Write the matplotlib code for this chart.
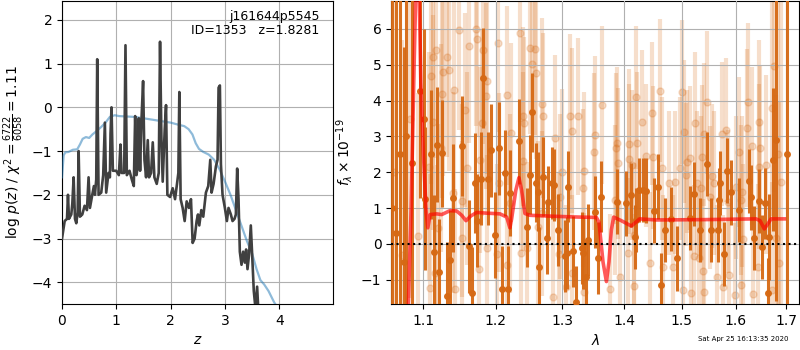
import numpy as np
import matplotlib
matplotlib.use('Agg')
import matplotlib.pyplot as plt
from matplotlib.ticker import NullLocator, NullFormatter

# ---- p(z) panel data ----
z_grid = [0.000, 0.049, 0.092, 0.110, 0.128, 0.171, 0.190, 0.214, 0.239, 0.263,
          0.288, 0.306, 0.330, 0.373, 0.416, 0.459, 0.489, 0.514, 0.557, 0.587,
          0.606, 0.630, 0.648, 0.673, 0.722, 0.758, 0.789, 0.813, 0.856, 0.881,
          0.893, 0.911, 0.936, 0.997, 1.046, 1.076, 1.095, 1.144, 1.168, 1.193,
          1.242, 1.284, 1.321, 1.346, 1.370, 1.394, 1.413, 1.437, 1.462, 1.492,
          1.517, 1.547, 1.578, 1.602, 1.639, 1.670, 1.700, 1.743, 1.780, 1.804,
          1.829, 1.853, 1.890, 1.914, 1.939, 1.988, 2.037, 2.080, 2.116, 2.141,
          2.159, 2.183, 2.220, 2.257, 2.294, 2.336, 2.373, 2.404, 2.440, 2.477,
          2.502, 2.526, 2.563, 2.599, 2.648, 2.691, 2.728, 2.752, 2.789, 2.832,
          2.862, 2.881, 2.905, 2.924, 2.954, 2.997, 3.034, 3.064, 3.107, 3.138,
          3.174, 3.199, 3.223, 3.248, 3.272, 3.303, 3.333, 3.364, 3.388, 3.413,
          3.443, 3.474, 3.498, 3.529, 3.560, 3.590, 3.615]
log_pz = [-3.00, -2.60, -2.55, -2.00, -2.55, -2.45, -2.20, -1.60, -2.55, -2.65,
          -2.40, -1.00, -2.50, -2.45, -2.25, -2.35, -1.60, -2.30, -2.00, -1.80,
          -2.00, -1.65, 1.10, -2.00, -1.95, -1.55, -0.35, -1.95, -1.50, -1.60,
          -0.60, 0.00, -1.45, -1.45, -1.55, -0.85, -1.50, -1.50, 1.42, -1.55,
          -1.45, -1.65, -1.80, -0.20, -1.55, -1.35, -0.25, -1.45, -0.30, 0.60,
          -1.20, -1.60, -0.75, -1.60, -1.50, -0.80, -1.60, -1.75, -1.50, 1.50,
          -0.70, -1.70, -0.50, 0.05, -2.00, -2.05, -1.85, -2.10, -1.75, -1.50,
          0.35, -2.10, -2.30, -2.60, -2.15, -2.30, -2.10, -3.10, -3.00, -2.60,
          -2.45, -2.70, -2.35, -2.50, -1.95, -1.80, -1.20, -1.95, -1.75, -1.35,
          -1.20, 0.45, 0.50, -1.30, -2.00, -2.30, -2.60, -2.30, -2.45, -2.60,
          -2.55, -2.45, -1.40, -2.10, -3.30, -3.60, -3.30, -3.55, -3.25, -3.70,
          -3.35, -2.70, -3.35, -4.20, -4.60, -4.10, -4.70]

z_chi2 = [0.00, 0.03, 0.06, 0.12, 0.20, 0.28, 0.33, 0.38, 0.44, 0.50,
          0.56, 0.63, 0.72, 0.80, 0.88, 0.97, 1.05, 1.20, 1.35, 1.50,
          1.70, 1.85, 2.00, 2.15, 2.25, 2.33, 2.40, 2.46, 2.52, 2.60,
          2.70, 2.80, 2.90, 3.00, 3.10, 3.20, 3.30, 3.40, 3.50, 3.58,
          3.65, 3.72, 3.80, 3.90, 3.95]
chi2_curve = [-1.60, -1.10, -1.03, -1.02, -0.97, -0.96, -0.85, -0.72, -0.68, -0.70,
              -0.62, -0.55, -0.45, -0.35, -0.22, -0.18, -0.20, -0.21, -0.22, -0.25,
              -0.29, -0.32, -0.35, -0.40, -0.43, -0.50, -0.62, -0.82, -0.95, -1.02,
              -1.08, -1.20, -1.42, -1.70, -2.00, -2.35, -2.70, -3.05, -3.35, -3.70,
              -3.95, -4.05, -4.20, -4.45, -4.55]

# ---- spectrum panel data (flux x 1e-19) ----
wave_a = [1.0597, 1.0650, 1.0703, 1.0746, 1.0777, 1.0860, 1.0961, 1.1009, 1.1026, 1.1109,
          1.1149, 1.1181, 1.1216, 1.1256, 1.1324, 1.1365, 1.1406, 1.1521, 1.1627, 1.1660,
          1.1710, 1.1738, 1.1786, 1.1822, 1.1885, 1.1932, 1.1990, 1.2052, 1.2095, 1.2134,
          1.2182, 1.2206, 1.2339, 1.2462, 1.2507, 1.2537, 1.2588, 1.2627, 1.2640, 1.2703,
          1.2754, 1.2779, 1.2836, 1.2871, 1.2932, 1.3036, 1.3063, 1.3087, 1.3166, 1.3209,
          1.3309, 1.3325, 1.3379, 1.3405, 1.3512, 1.3566, 1.3621, 1.3878, 1.4035, 1.4119,
          1.4175, 1.4204, 1.4248, 1.4316, 1.4375, 1.4500, 1.4575, 1.4635, 1.4693, 1.4811,
          1.4911, 1.5139, 1.5217, 1.5321, 1.5455, 1.5537, 1.5660, 1.5692, 1.5705, 1.5773,
          1.5830, 1.5913, 1.6072, 1.6252, 1.6298, 1.6363, 1.6447, 1.6514, 1.6573, 1.6625,
          1.6659, 1.6725, 1.6793, 1.7007]
flux_a = [1.00, 0.30, 2.50, -0.50, 3.00, 2.25, 4.28, 3.49, 1.26, 2.50,
          -0.23, 2.77, -0.79, 2.53, -1.44, -0.45, 1.28, 2.74, -0.07, -1.38,
          1.71, 0.65, 1.82, 4.63, 1.82, 2.61, 0.25, 2.67, -1.26, 1.97,
          -1.26, 1.42, 2.86, 0.46, 1.93, 3.68, 1.71, 1.46, -0.63, 1.88,
          0.16, 1.18, 1.71, 1.65, 0.39, -0.33, -0.26, 1.60, -0.21, -1.61,
          -0.12, -0.26, -0.91, 0.11, 0.90, -0.40, 1.32, 1.18, 1.13, 1.37,
          0.20, 0.67, 1.51, 1.51, 1.49, 0.93, 1.60, -1.15, 0.39, 0.69,
          -0.40, 0.72, 1.40, 0.39, 2.23, 0.39, 0.39, 1.23, 1.70, -0.28,
          2.05, 1.44, 0.95, 1.76, 1.30, 0.16, 1.20, -0.09, 1.13, -1.38,
          0.20, 2.35, 2.90, 2.51]
err_a = [8.0, 7.0, 5.0, 6.0, 5.0, 5.0, 3.0, 2.5, 2.0, 1.8,
         1.6, 1.6, 1.5, 1.5, 1.5, 1.4, 1.5, 1.4, 1.3, 1.3,
         1.4, 1.3, 1.3, 1.4, 1.3, 1.3, 1.2, 1.3, 1.2, 1.2,
         1.2, 1.2, 1.2, 1.1, 1.1, 1.1, 1.1, 1.1, 1.1, 1.1,
         1.0, 1.0, 1.0, 1.0, 1.0, 1.0, 1.0, 1.0, 1.0, 1.0,
         1.0, 1.0, 1.0, 1.0, 1.0, 1.0, 1.0, 0.9, 0.9, 0.9,
         0.9, 0.9, 0.9, 0.9, 0.9, 0.9, 0.9, 0.9, 0.9, 0.9,
         0.9, 0.9, 0.9, 0.9, 0.9, 0.9, 0.9, 0.9, 0.9, 0.9,
         0.9, 0.9, 0.9, 0.9, 0.9, 0.9, 0.9, 0.9, 1.0, 1.0,
         1.2, 2.0, 4.5, 6.0]

wave_b = [1.0620, 1.0720, 1.0830, 1.0938, 1.1083, 1.1090, 1.1109, 1.1128, 1.1132, 1.1159,
          1.1168, 1.1203, 1.1234, 1.1250, 1.1262, 1.1316, 1.1351, 1.1398, 1.1420, 1.1429,
          1.1488, 1.1521, 1.1530, 1.1562, 1.1600, 1.1619, 1.1720, 1.1730, 1.1766, 1.1776,
          1.1800, 1.1822, 1.1856, 1.1870, 1.1875, 1.2013, 1.2038, 1.2045, 1.2159, 1.2165,
          1.2206, 1.2221, 1.2354, 1.2364, 1.2394, 1.2402, 1.2417, 1.2453, 1.2498, 1.2537,
          1.2582, 1.2590, 1.2627, 1.2679, 1.2685, 1.2703, 1.2855, 1.2882, 1.2942, 1.2958,
          1.2985, 1.3052, 1.3125, 1.3150, 1.3155, 1.3245, 1.3325, 1.3341, 1.3347, 1.3496,
          1.3512, 1.3632, 1.3757, 1.3840, 1.3868, 1.3878, 1.3894, 1.3922, 1.4063, 1.4079,
          1.4085, 1.4127, 1.4163, 1.4170, 1.4204, 1.4210, 1.4299, 1.4362, 1.4431, 1.4478,
          1.4488, 1.4605, 1.4653, 1.4664, 1.4769, 1.4839, 1.4881, 1.4959, 1.5007, 1.5017,
          1.5035, 1.5066, 1.5095, 1.5139, 1.5157, 1.5217, 1.5235, 1.5274, 1.5308, 1.5352,
          1.5370, 1.5394, 1.5400, 1.5413, 1.5455, 1.5524, 1.5555, 1.5598, 1.5642, 1.5734,
          1.5753, 1.5818, 1.5848, 1.5880, 1.5994, 1.6008, 1.6072, 1.6104, 1.6110, 1.6123,
          1.6135, 1.6214, 1.6233, 1.6318, 1.6344, 1.6427, 1.6447, 1.6460, 1.6480, 1.6593,
          1.6713, 1.6720, 1.6759, 1.6793, 1.6830, 1.6859, 1.6894]
flux_b = [2.00, -0.30, 3.50, 0.22, 2.16, -1.24, 4.68, 3.40, 5.21, -0.80,
          5.40, 0.44, 2.67, 4.18, 4.80, 5.23, 4.85, 1.43, 4.30, -1.27,
          5.98, 0.16, 1.21, 3.74, 2.11, 5.53, 6.00, 5.72, -0.71, 2.35,
          3.37, 5.40, 4.13, 4.55, -0.12, -0.28, 5.62, 1.71, 4.15, -0.59,
          1.14, 3.11, 5.90, -0.26, 3.56, 2.31, 3.37, -0.12, 5.46, 5.02,
          5.44, 4.77, 0.48, 3.90, 0.86, 3.58, -1.49, 2.97, -0.28, 1.32,
          2.02, -1.21, 3.56, 3.16, -0.82, 3.56, 1.56, 2.04, -1.33, 2.58,
          3.04, 3.87, -1.27, 1.23, 2.67, 2.83, 2.25, -0.91, -0.26, 2.78,
          2.37, 2.21, 0.25, -1.17, 4.09, 2.81, 3.40, 2.46, -0.54, 3.65,
          2.42, 4.28, 2.11, -0.63, 1.70, -0.63, 1.72, 2.11, 4.24, -1.28,
          3.13, 1.93, 2.30, 2.40, -1.38, -0.35, 3.37, 1.70, -0.40, 1.56,
          2.44, -0.75, 3.06, -1.34, 3.95, 1.30, 1.90, 1.70, -0.91, 3.07,
          -1.19, 3.18, 1.18, -0.87, -1.42, 1.58, 2.57, 1.23, -1.15, 1.46,
          0.13, 3.23, 3.96, 2.74, -1.40, -0.63, 3.40, 2.16, 2.67, 2.21,
          3.79, -1.28, 4.96, 0.16, 2.50, -0.52, 1.74]
err_b = [7.0, 6.0, 5.0, 4.0, 3.2, 3.2, 3.0, 3.0, 3.0, 3.0,
         3.0, 2.9, 2.9, 2.9, 2.9, 2.8, 2.8, 2.8, 2.8, 2.8,
         2.8, 2.7, 2.7, 2.7, 2.7, 2.7, 2.7, 2.7, 2.6, 2.6,
         2.6, 2.6, 2.6, 2.6, 2.6, 2.5, 2.5, 2.5, 2.5, 2.5,
         2.5, 2.5, 2.5, 2.5, 2.5, 2.5, 2.4, 2.4, 2.4, 2.4,
         2.4, 2.4, 2.4, 2.4, 2.3, 2.3, 2.3, 2.3, 2.3, 2.3,
         2.3, 2.3, 2.3, 2.3, 2.2, 2.2, 2.2, 2.2, 2.2, 2.2,
         2.2, 2.2, 2.1, 2.1, 2.1, 2.1, 2.1, 2.1, 2.1, 2.1,
         2.1, 2.1, 2.0, 2.0, 2.0, 2.0, 2.0, 2.0, 2.0, 2.0,
         2.0, 2.0, 2.0, 2.0, 2.0, 2.0, 2.0, 2.0, 2.0, 2.0,
         2.0, 2.0, 2.0, 2.0, 2.0, 2.0, 2.0, 2.0, 2.0, 2.0,
         2.0, 2.0, 2.0, 2.0, 2.0, 2.0, 2.0, 2.0, 2.0, 2.0,
         2.0, 2.0, 2.0, 2.0, 2.0, 2.0, 2.1, 2.1, 2.1, 2.1,
         2.1, 2.2, 2.2, 2.2, 2.2, 2.3, 2.3, 2.3, 2.3, 2.5,
         3.0, 3.0, 3.5, 4.0, 6.0, 4.5, 5.0]

model_wave = [1.0807, 1.0843, 1.0882, 1.0909, 1.0944, 1.0970, 1.1004, 1.1040, 1.1062, 1.1093,
              1.1181, 1.1248, 1.1360, 1.1451, 1.1521, 1.1580, 1.1646, 1.1730, 1.1870, 1.2062,
              1.2159, 1.2206, 1.2231, 1.2293, 1.2339, 1.2378, 1.2428, 1.2502, 1.2908, 1.3272,
              1.3540, 1.3582, 1.3647, 1.3703, 1.3745, 1.3785, 1.3823, 1.3950, 1.4119, 1.4260,
              1.4545, 1.5443, 1.6396, 1.6475, 1.6559, 1.6625, 1.6692, 1.6962]
model_flux = [-1.70, 1.00, 5.00, 7.50, 7.50, 4.50, 2.50, 0.90, 0.45, 0.82,
              0.84, 0.82, 0.93, 0.92, 0.80, 0.65, 0.78, 0.88, 0.86, 0.84,
              0.75, 0.45, 0.70, 1.50, 1.85, 1.50, 0.85, 0.80, 0.77, 0.75,
              0.74, 0.60, -0.50, -1.05, -0.50, 0.40, 0.75, 0.65, 0.50, 0.70,
              0.67, 0.68, 0.70, 0.65, 0.42, 0.55, 0.70, 0.70]

lam_ticks = [1.1, 1.2, 1.3, 1.4, 1.5, 1.6, 1.7]

orange = '#d66914'

fig = plt.figure(figsize=(8, 3.5), dpi=100)

# left: p(z)
ax1 = fig.add_axes([0.0775, 0.131, 0.339, 0.866])
ax1.plot(z_chi2, chi2_curve, color='tab:blue', alpha=0.5, lw=1.6, zorder=3)
ax1.plot(z_grid, log_pz, color='0.25', lw=1.9, zorder=4)
ax1.set_xlim(0, 4.99)
ax1.set_ylim(-4.5, 2.43)
ax1.set_xticks([0, 1, 2, 3, 4])
ax1.set_yticks([-4, -3, -2, -1, 0, 1, 2])
ax1.grid(zorder=0)
ax1.set_axisbelow(True)
ax1.set_xlabel(r'$z$')
ax1.set_ylabel(r'log $p(z)$ / $\chi^2=\frac{6722}{6058}=1.11$')
ax1.text(0.95, 0.97, 'j161644p5545\nID=1353   z=1.8281', transform=ax1.transAxes,
         ha='right', va='top', fontsize=9, linespacing=1.1)

# right: spectrum
ax2 = fig.add_axes([0.489, 0.131, 0.51, 0.866])
ax2.errorbar(wave_b, flux_b, yerr=err_b, color=orange, alpha=0.22, marker='o', ms=5,
             linestyle='None', elinewidth=3, zorder=2)
ax2.errorbar(wave_a, flux_a, yerr=err_a, color=orange, alpha=0.95, marker='o', ms=4,
             linestyle='None', elinewidth=2.2, zorder=3)
ax2.plot(model_wave, model_flux, color='r', alpha=0.65, lw=2.6, zorder=5)
ax2.axhline(0, color='k', linestyle=':', lw=1.5, zorder=6)
ax2.set_xscale('log')
ax2.set_xlim(1.0587, 1.7266)
ax2.set_ylim(-1.68, 6.78)
ax2.xaxis.set_minor_locator(NullLocator())
ax2.xaxis.set_minor_formatter(NullFormatter())
ax2.set_xticks(lam_ticks)
ax2.set_xticklabels(['%.1f' % t for t in lam_ticks])
ax2.set_yticks([-1, 0, 1, 2, 3, 4, 5, 6])
ax2.grid(zorder=1)
ax2.set_axisbelow(False)
for gl in ax2.get_xgridlines() + ax2.get_ygridlines():
    gl.set_zorder(4)
ax2.set_xlabel(r'$\lambda$')
ax2.set_ylabel(r'$f_\lambda\times10^{-19}$')

fig.text(0.985, 0.022, 'Sat Apr 25 16:13:35 2020', ha='right', va='bottom', fontsize=5)

fig.savefig('out.png', dpi=100)
